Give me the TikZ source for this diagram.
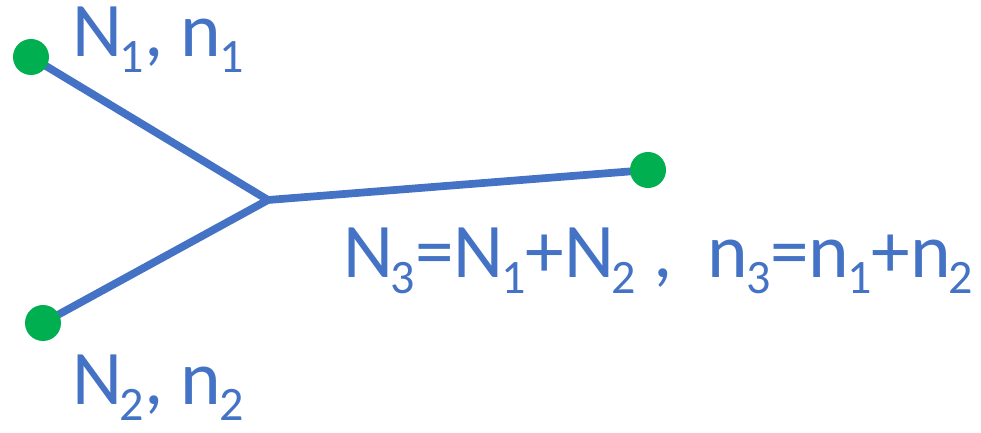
\documentclass[tikz,border=0pt]{standalone}
\usepackage{fontspec}
\setmainfont{Carlito}
\usepackage{xcolor}
\definecolor{lineblue}{HTML}{4472C4}
\definecolor{dotgreen}{HTML}{00B050}
\usepackage{tikz}
\newcommand{\lowsub}[1]{\kern-0.03em\raisebox{-0.2em}{\fontsize{41}{41}\selectfont #1}}

\begin{document}
\begin{tikzpicture}[x=0.03cm,y=-0.03cm,
                    site/.style={circle,fill=dotgreen,inner sep=0pt,minimum size=1.08cm},
                    lbl/.style={anchor=base west,inner sep=0pt,text=lineblue,font=\fontsize{66}{74}\selectfont},
                    edge/.style={draw=lineblue,line width=6.6pt}]
  \useasboundingbox (0,0) rectangle (981,433);
  \coordinate (j) at (268,200);
  \draw[edge] (31,57) coordinate (p1) -- (j);
  \draw[edge] (43,323) coordinate (p2) -- (j);
  \draw[edge] (j) -- (648,170) coordinate (p3);
  \node[site] (a) at (p1) {};
  \node[site] (b) at (p2) {};
  \node[site] (c) at (p3) {};
  \node[lbl] (la) at (72,57) {N\lowsub{1}, n\lowsub{1}};
  \node[lbl] (lb) at (72,405) {N\lowsub{2}, n\lowsub{2}};
  \node[lbl] (lc) at (343,278) {N\lowsub{3}=N\lowsub{1}+N\lowsub{2} ,\ \ n\lowsub{3}=n\lowsub{1}+n\lowsub{2}};
\end{tikzpicture}
\end{document}
